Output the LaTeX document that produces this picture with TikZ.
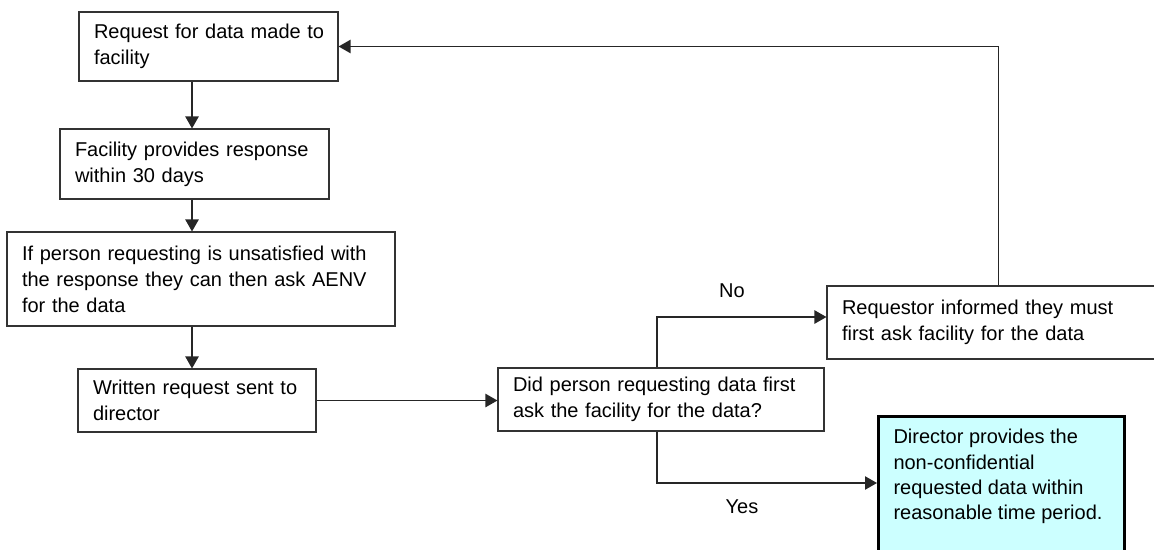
\documentclass[tikz,border=0pt]{standalone}
\usepackage{fontspec}
\setmainfont{Liberation Sans}
\usetikzlibrary{arrows.meta}
\definecolor{lightcyan}{HTML}{CCFFFF}
\begin{document}
\begin{tikzpicture}[x=0.75pt,y=-0.75pt,
  box/.style={draw=black!80, line width=0.8pt, fill=white, align=left,
    inner xsep=11.25pt, inner ysep=0pt, font=\fontsize{15}{19.5}\selectfont},
  endbox/.style={draw=black, line width=2.25pt, fill=lightcyan, align=left,
    inner xsep=11.25pt, inner ysep=9.75pt, font=\fontsize{15}{19}\selectfont, anchor=north west},
  lbl/.style={inner sep=0pt, font=\fontsize{15}{19.5}\selectfont},
  arr/.style={-{Triangle[length=9pt,width=10pt]}, line width=1pt, draw=black!85}]
\useasboundingbox (0,0) rectangle (1154,550);
\clip (0,0) rectangle (1154,550);

\node[box, minimum width=194.25pt, text width=171.75pt, minimum height=51.75pt] (b1) at (208.5,46.5)
  {\mbox{Request for data made to}\\facility};
\node[box, minimum width=201.75pt, text width=179.25pt, minimum height=52.5pt] (b2) at (194.5,164)
  {\mbox{Facility provides response}\\within 30 days};
\node[box, minimum width=291pt, text width=268.5pt, minimum height=70.5pt] (b3) at (201,279)
  {\mbox{If person requesting is unsatisfied with}\\\mbox{the response they can then ask AENV}\\for the data};
\node[box, minimum width=178.5pt, text width=156pt, minimum height=47.25pt] (b4) at (197,400.5)
  {\mbox{Written request sent to}\\director};
\node[box, minimum width=244.5pt, text width=222pt, minimum height=47.25pt] (b5) at (661,399.5)
  {\mbox{Did person requesting data first}\\\mbox{ask the facility for the data?}};
\node[box, minimum width=257.25pt, text width=234.75pt, minimum height=54.75pt] (b6) at (998.5,322.5)
  {\mbox{Requestor informed they must}\\\mbox{first ask facility for the data}};
\node[endbox] (b7) at (877,415)
  {\begin{minipage}[t][150pt][t]{162pt}\raggedright
   Director provides the\\non-confidential\\requested data within\\\mbox{reasonable time period.}
   \end{minipage}};

\node[lbl] (no) at (732,291) {No};
\node[lbl] (yes) at (742,507) {Yes};

\coordinate (ax) at (192,0);
\coordinate (nb) at (657,317);
\coordinate (yb) at (657,483);

\draw[arr] (b1.south -| ax) -- (b2.north -| ax);
\draw[arr] (b2.south -| ax) -- (b3.north -| ax);
\draw[arr] (b3.south -| ax) -- (b4.north -| ax);
\draw[arr] (b4.east) -- (b4.east -| b5.west);
\draw[arr] (b5.north -| nb) -- (nb) -- (nb -| b6.west);
\draw[arr] (b5.south -| yb) -- (yb) -- (yb -| b7.west);
\draw[arr] (b6.north) |- (b1.east);
\end{tikzpicture}
\end{document}
